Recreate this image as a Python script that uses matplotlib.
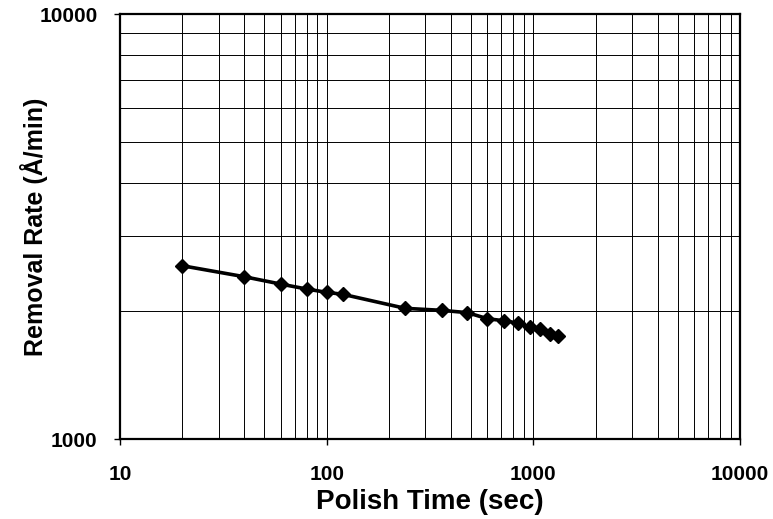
import matplotlib
matplotlib.use('Agg')
import matplotlib.pyplot as plt
from matplotlib.ticker import LogLocator, FixedLocator, NullFormatter

plt.rcParams['font.family'] = ['Liberation Sans', 'DejaVu Sans']

# data
polish_time = [20, 40, 60, 80, 100, 120, 240, 360, 480, 600, 720, 840, 960, 1080, 1200, 1320]
removal_rate = [2557, 2409, 2315, 2254, 2214, 2190, 2030, 2008, 1983, 1919, 1898, 1875, 1831, 1812, 1763, 1750]

x_ticks = [10, 100, 1000, 10000]
y_ticks = [1000, 10000]

fig = plt.figure(figsize=(7.73, 5.19), dpi=100)
ax = fig.add_axes([0.1552, 0.1541, 0.8021, 0.8189])

ax.set_xscale('log')
ax.set_yscale('log')
ax.set_xlim(10, 10000)
ax.set_ylim(1000, 10000)

ax.plot(polish_time, removal_rate, color='black', lw=2.6, marker='D', ms=7, zorder=3)

ax.xaxis.set_major_locator(FixedLocator(x_ticks))
ax.yaxis.set_major_locator(FixedLocator(y_ticks))
ax.xaxis.set_minor_locator(LogLocator(base=10, subs=range(2, 10)))
ax.yaxis.set_minor_locator(LogLocator(base=10, subs=range(2, 10)))
ax.xaxis.set_minor_formatter(NullFormatter())
ax.yaxis.set_minor_formatter(NullFormatter())
ax.set_xticklabels([str(v) for v in x_ticks], fontsize=15, fontweight='bold')
ax.set_yticklabels([str(v) for v in y_ticks], fontsize=15, fontweight='bold')

ax.grid(True, which='both', color='black', lw=0.7)
ax.tick_params(which='major', direction='out', length=4, width=1)
ax.tick_params(axis='x', which='major', pad=15)
ax.tick_params(axis='y', which='major', pad=12)
ax.tick_params(which='minor', length=0)
for sp in ax.spines.values():
    sp.set_linewidth(1.6)

ax.set_xlabel('Polish Time (sec)', fontsize=20, fontweight='bold')
ax.set_ylabel('Removal Rate (Å/min)', fontsize=18, fontweight='bold')
ax.xaxis.set_label_coords(0.5, -0.118)
ax.yaxis.label.set_va('center')
ax.yaxis.set_label_coords(-0.139, 0.5)

fig.savefig('out.png', dpi=100)
